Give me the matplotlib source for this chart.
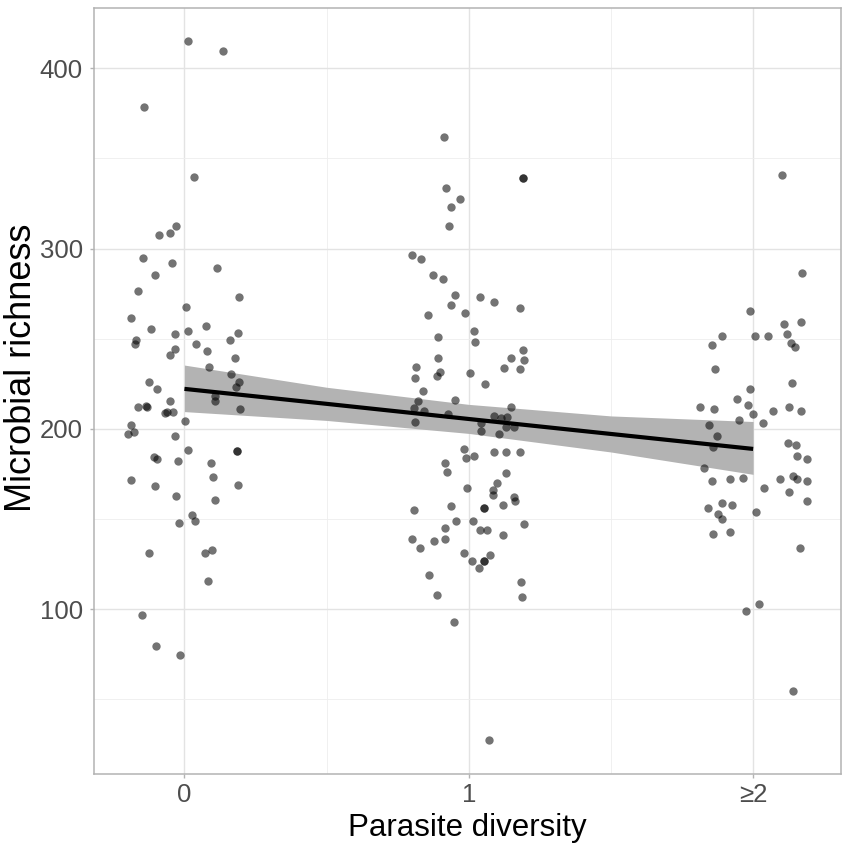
import matplotlib
matplotlib.use("Agg")
import matplotlib.pyplot as plt
from matplotlib.ticker import MultipleLocator
import numpy as np

plt.rcParams['font.family'] = ['Liberation Sans', 'DejaVu Sans']

# jittered parasite diversity (x) and microbial richness (y), one pair of lists per group
x_div0 = [0.014, 0.134, -0.141, 0.035, -0.029, -0.05, -0.09, -0.145, -0.042, 0.114,
          -0.103, -0.165, 0.191, 0.004, -0.188, -0.117, -0.034, 0.013, 0.077, 0.189,
          -0.171, -0.174, 0.162, 0.039, 0.079, -0.032, -0.049, 0.177, 0.085, 0.164,
          0.191, 0.18, -0.123, -0.095, 0.109, 0.109, -0.05, -0.163, -0.134, -0.132,
          -0.063, -0.04, -0.07, 0.196, 0.001, -0.189, -0.2, -0.176, -0.034, 0.013,
          0.184, 0.186, -0.108, -0.096, -0.022, 0.092, 0.101, -0.187, -0.103, 0.189,
          -0.028, 0.106, 0.025, 0.038, -0.02, 0.096, 0.074, -0.126, 0.082, -0.15,
          -0.101, -0.015]
rich0 = [415, 409.6, 378.7, 339.6, 312.4, 308.7, 307.4, 294.8, 292.2, 289.4,
         285.4, 276.3, 273.3, 267.4, 261.3, 255.2, 252.4, 254.3, 256.8, 253.3,
         249.4, 247.1, 249.1, 247.2, 243.1, 244.1, 241.1, 239.1, 234.1, 230.4,
         226.1, 223.3, 226.1, 222.0, 218.1, 215.2, 215.2, 212.0, 212.6, 212.4,
         209.3, 209.3, 209.0, 211.1, 204.3, 202.2, 197, 198.1, 195.8, 188.1,
         187.9, 187.5, 184.2, 183.1, 182, 180.9, 173.1, 171.9, 168.1, 169,
         162.9, 160.8, 152.2, 149.1, 148, 133, 131, 131, 115.9, 96.7,
         79.6, 74.8]

x_div1 = [0.913, 1.192, 1.19, 0.921, 0.969, 0.937, 0.929, 0.8, 0.832, 0.873,
          0.91, 0.952, 1.038, 1.087, 1.179, 0.938, 0.987, 0.855, 1.02, 1.023,
          0.893, 1.189, 0.89, 1.147, 1.195, 0.814, 1.125, 1.181, 0.811, 0.887,
          0.9, 1.004, 1.056, 0.84, 0.823, 0.951, 0.808, 0.844, 0.811, 0.928,
          1.15, 1.089, 1.114, 1.134, 1.043, 1.044, 1.132, 1.159, 1.108, 0.983,
          0.991, 1.018, 1.09, 1.132, 1.179, 0.918, 0.925, 1.131, 1.101, 1.086,
          0.992, 1.085, 1.158, 1.161, 1.12, 1.053, 1.055, 0.937, 0.806, 0.954,
          1.016, 1.194, 0.916, 1.04, 1.063, 1.12, 0.801, 0.877, 0.915, 0.828,
          0.984, 1.075, 1.013, 1.052, 1.054, 1.036, 0.86, 1.184, 1.187, 0.887,
          0.948, 1.071]
rich1 = [361.7, 339.4, 339.2, 333.5, 327.4, 323, 312.4, 296.7, 294.4, 285.4,
         283.3, 274.4, 273.3, 270.4, 267.2, 268.5, 264.4, 263.1, 254.3, 248.3,
         251.1, 243.7, 239.3, 239.3, 238.1, 234.3, 233.7, 233.2, 228.2, 229.1,
         231.3, 231.1, 225, 221.1, 215.2, 216.1, 211.5, 210.2, 204.1, 208.3,
         212, 207.4, 205.9, 206.8, 203.2, 199.1, 200.9, 200.9, 197.2, 189.1,
         183.9, 185, 187.1, 187.1, 187.1, 181.1, 176.3, 175.4, 170, 166.1,
         167.1, 163.2, 162, 160, 158, 156.1, 155.9, 157, 155, 149.1,
         149.1, 147, 145.2, 144.1, 144.1, 141, 139.1, 137.8, 139.1, 134.1,
         131, 130.2, 126.8, 126.7, 126.5, 123, 118.9, 115, 106.8, 107.9,
         92.8, 27.6]

x_div2 = [2.101, 2.172, 1.989, 2.108, 2.169, 1.891, 2.007, 2.054, 2.12, 1.855,
          2.134, 2.147, 1.867, 2.138, 1.989, 1.944, 1.814, 1.863, 1.983, 1.999,
          2.07, 2.126, 2.169, 1.949, 2.034, 1.844, 1.873, 1.858, 2.123, 2.151,
          2.154, 2.188, 1.827, 1.857, 1.919, 1.966, 2.094, 2.14, 2.156, 2.188,
          2.037, 2.127, 2.191, 1.892, 1.925, 1.841, 1.875, 1.89, 2.011, 1.86,
          1.919, 2.166, 2.022, 1.976, 2.14]
rich2 = [340.6, 286.3, 265.2, 258.3, 259.3, 251.3, 251.3, 251.3, 252.8, 246.3,
         247.6, 245.2, 233.3, 225.2, 222.2, 216.5, 212.2, 211.1, 213.1, 208.2,
         210, 212.2, 210, 204.8, 203.2, 202.2, 196.1, 189.8, 192, 191.1,
         185, 183.2, 178.2, 171.1, 172, 173, 172, 174.1, 172.2, 170.9,
         167.1, 165.2, 160, 159.1, 158, 155.9, 152.9, 150, 153.9, 141.8,
         143, 133.9, 102.8, 98.9, 54.6]

# fitted trend and its confidence band
fit_x = [0, 0.5, 1, 1.5, 2]
fit_y = [222.2, 213.9, 205.5, 197.2, 188.9]
ci_low = [209.6, 204.7, 197.5, 187.2, 174.8]
ci_high = [235.4, 223.1, 213.6, 207.2, 204.1]

tick_pos = [0, 1, 2]
tick_lab = ['0', '1', '≥2']

fig = plt.figure(figsize=(8.51, 8.49), dpi=100)
ax = fig.add_axes([94 / 851, 1 - 773.5 / 849, (841 - 94) / 851, (773.5 - 7.5) / 849])

ax.fill_between(fit_x, ci_low, ci_high, color='#b3b3b3', linewidth=0, zorder=2)
ax.scatter(x_div0 + x_div1 + x_div2, rich0 + rich1 + rich2, s=36, c='black',
           alpha=0.55, linewidths=0, zorder=3)
ax.plot(fit_x, fit_y, color='black', linewidth=3, solid_capstyle='butt', zorder=4)

ax.set_xlim(-0.318, 2.309)
ax.set_ylim(8.9, 433.7)
ax.set_xticks(tick_pos)
ax.set_xticklabels(tick_lab)
ax.set_yticks([100, 200, 300, 400])
ax.xaxis.set_minor_locator(MultipleLocator(0.5))
ax.yaxis.set_minor_locator(MultipleLocator(50))

ax.grid(which='major', color='#e3e3e3', linewidth=1.0, zorder=0)
ax.grid(which='minor', color='#eeeeee', linewidth=0.6, zorder=0)
ax.set_axisbelow(True)
for s in ax.spines.values():
    s.set_color('#b3b3b3')
    s.set_linewidth(1.1)

ax.tick_params(which='major', length=3, width=1, color='#b3b3b3',
               labelsize=18.5, labelcolor='#4d4d4d')
ax.tick_params(axis='y', pad=5)
ax.tick_params(axis='x', pad=4)
ax.tick_params(which='minor', length=0)

ax.set_xlabel('Parasite diversity', fontsize=22.5, color='black', labelpad=4)
ax.set_ylabel('Microbial richness', fontsize=26, color='black')
ax.yaxis.set_label_coords(-0.074, 0.53)

fig.savefig('out.png', dpi=100)
